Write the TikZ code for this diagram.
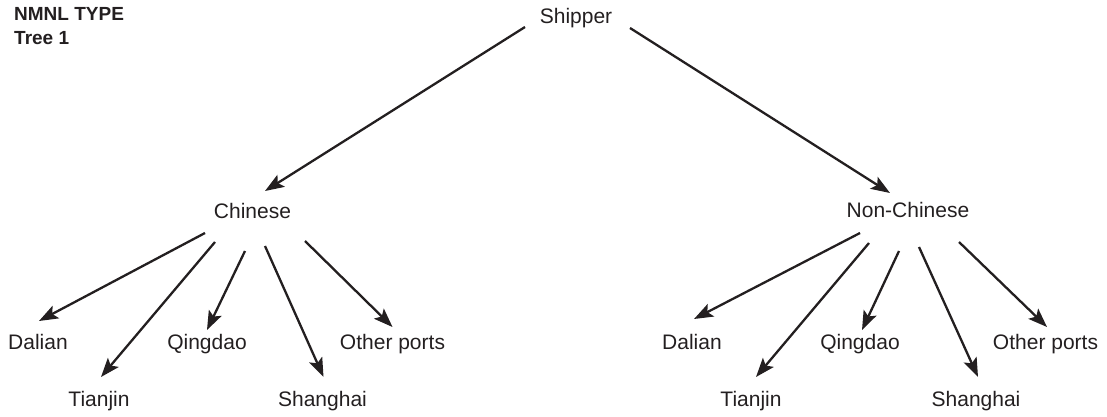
\documentclass[tikz,border=0pt]{standalone}
\usepackage{fontspec}
\setmainfont{Liberation Sans}
\usepackage{xcolor}
\usepackage{tikz}
\usetikzlibrary{arrows.meta,positioning,calc}
\definecolor{ink}{HTML}{231F20}

\begin{document}
\begin{tikzpicture}[x=1pt, y=-1pt,
    txt/.style={inner sep=0pt, anchor=base, text=ink, font=\fontsize{21}{24}\selectfont},
    head/.style={inner sep=0pt, anchor=base west, text=ink, font=\fontsize{19}{22}\selectfont\bfseries},
    arr/.style={-{Stealth[length=19pt, width=14pt, inset=4pt]}, draw=ink, line width=2.3pt}]
      \useasboundingbox (0, 0) rectangle (1107, 417);
      \node (type_text) [head] at (14, 21) {NMNL TYPE};
      \node (tree_text) [head] at (14, 45) {Tree 1};
      \node (shipper) [txt] at (576, 24) {Shipper};
      \node (chinese) [txt] at (252.5, 218) {Chinese};
      \node (non_chinese) [txt] at (908, 217) {Non-Chinese};
      % ports under Chinese
      \node (c_dalian) [txt] at (38, 349) {Dalian};
      \node (c_tianjin) [txt] at (99, 406) {Tianjin};
      \node (c_qingdao) [txt] at (207, 349) {Qingdao};
      \node (c_shanghai) [txt] at (322.5, 406) {Shanghai};
      \node (c_other) [txt] at (392.5, 349) {Other ports};
      % ports under Non-Chinese
      \node (n_dalian) [txt] at (692, 349) {Dalian};
      \node (n_tianjin) [txt] at (751, 406) {Tianjin};
      \node (n_qingdao) [txt] at (860, 349) {Qingdao};
      \node (n_shanghai) [txt] at (976, 406) {Shanghai};
      \node (n_other) [txt] at (1045.5, 349) {Other ports};
      \draw [arr] ([xshift=-51pt, yshift=-3pt]shipper.base) to ([xshift=12.5pt, yshift=27pt]chinese.base);
      \draw [arr] ([xshift=54pt, yshift=-4pt]shipper.base) to ([xshift=-18pt, yshift=24pt]non_chinese.base);
      \draw [arr] ([xshift=-47.5pt, yshift=-15pt]chinese.base) to ([xshift=1pt, yshift=28pt]c_dalian.base);
      \draw [arr] ([xshift=-37.5pt, yshift=-24pt]chinese.base) to ([xshift=2pt, yshift=29pt]c_tianjin.base);
      \draw [arr] ([xshift=-7.5pt, yshift=-33pt]chinese.base) to ([xshift=0pt, yshift=19pt]c_qingdao.base);
      \draw [arr] ([xshift=12.5pt, yshift=-28pt]chinese.base) to ([xshift=1pt, yshift=29pt]c_shanghai.base);
      \draw [arr] ([xshift=52.5pt, yshift=-23pt]chinese.base) to ([xshift=0pt, yshift=22pt]c_other.base);
      \draw [arr] ([xshift=-48pt, yshift=-16pt]non_chinese.base) to ([xshift=2pt, yshift=30pt]n_dalian.base);
      \draw [arr] ([xshift=-39pt, yshift=-26pt]non_chinese.base) to ([xshift=5pt, yshift=29pt]n_tianjin.base);
      \draw [arr] ([xshift=-9pt, yshift=-34pt]non_chinese.base) to ([xshift=2pt, yshift=19pt]n_qingdao.base);
      \draw [arr] ([xshift=11pt, yshift=-30pt]non_chinese.base) to ([xshift=2pt, yshift=29pt]n_shanghai.base);
      \draw [arr] ([xshift=51pt, yshift=-25pt]non_chinese.base) to ([xshift=1.5pt, yshift=22pt]n_other.base);
    \end{tikzpicture}
\end{document}
